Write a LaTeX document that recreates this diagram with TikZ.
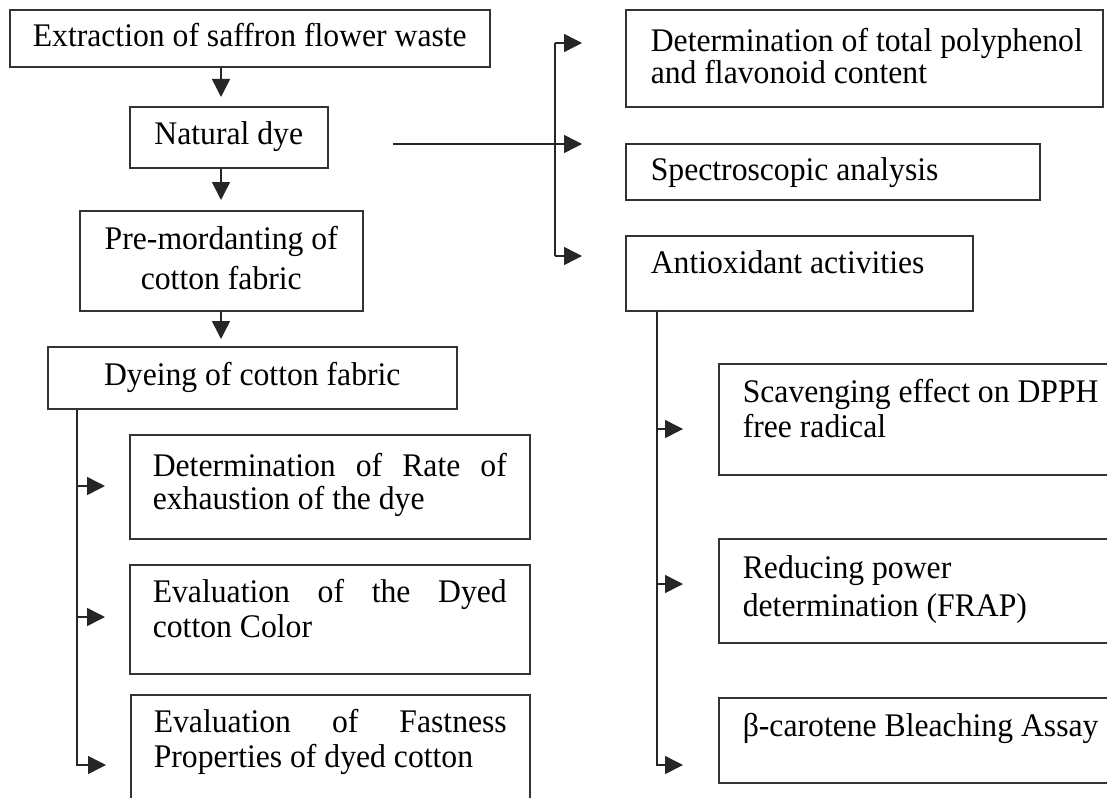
\documentclass[tikz,border=0pt]{standalone}
\usepackage{fontspec}
\setmainfont[FakeStretch=0.96]{Liberation Serif}
\usetikzlibrary{arrows.meta}
\newcommand{\bt}[6]{\parbox[c][#1][t]{#2}{\fontsize{33pt}{#3}\selectfont\sloppy\hyphenpenalty=10000 #4\rule{0pt}{#5}#6}}
\begin{document}
\begin{tikzpicture}[x=1pt,y=-1pt,
  bx/.style={draw=black!80, line width=1.6pt, inner ysep=0pt, anchor=north west, fill=white},
  ln/.style={draw=black!85, line width=1.5pt},
  arr/.style={ln, -{Triangle[length=18pt,width=18pt]}}]
\clip (0,0) rectangle (1107,797);
\fill[white] (0,0) rectangle (1107,797);
% left column
\node[bx, inner xsep=0pt] (ext) at (9,9) {\bt{57pt}{480pt}{35pt}{\centering}{37pt}{Extraction of saffron flower waste}};
\node[bx, inner xsep=0pt] (nd) at (129,106) {\bt{61pt}{198pt}{35pt}{\centering}{38pt}{Natural dye}};
\node[bx, inner xsep=0pt] (pm) at (79,210) {\bt{100pt}{283pt}{40pt}{\centering}{39pt}{Pre-mordanting of\\cotton fabric}};
\node[bx, inner xsep=0pt] (dy) at (47,346) {\bt{62pt}{409pt}{35pt}{\centering}{39pt}{Dyeing of cotton fabric}};
\node[bx, inner xsep=23pt] (rate) at (129,434) {\bt{104pt}{354pt}{33pt}{}{42pt}{Determination of Rate of\linebreak exhaustion of the dye}};
\node[bx, inner xsep=23pt] (col) at (129,564) {\bt{109pt}{354pt}{35pt}{}{38pt}{Evaluation of the Dyed\linebreak cotton Color}};
\node[bx, inner xsep=23pt] (fast) at (130,694) {\bt{130pt}{353pt}{35pt}{}{38pt}{Evaluation of Fastness\linebreak Properties of dyed cotton}};
% right column
\node[bx, inner xsep=0pt] (pp) at (625,9) {\hspace*{25pt}\bt{97pt}{452pt}{32pt}{\raggedright}{42pt}{Determination of total polyphenol\\and flavonoid content}};
\node[bx, inner xsep=25pt] (sp) at (625,143) {\bt{56pt}{364pt}{35pt}{\raggedright}{37pt}{Spectroscopic analysis}};
\node[bx, inner xsep=25pt] (ao) at (625,235) {\bt{75pt}{297pt}{35pt}{\raggedright}{38pt}{Antioxidant activities}};
\node[bx, inner xsep=24pt] (dpph) at (718,363) {\bt{111pt}{400pt}{35pt}{\raggedright}{39pt}{Scavenging effect on DPPH\\free radical}};
\node[bx, inner xsep=24pt] (frap) at (718,538) {\bt{104pt}{400pt}{38pt}{\raggedright}{40pt}{Reducing power\\determination (FRAP)}};
\node[bx, inner xsep=24pt] (beta) at (718,697) {\bt{85pt}{400pt}{35pt}{\raggedright}{39pt}{β-carotene Bleaching Assay}};
% coordinates
\coordinate (ax) at (221,0);
\coordinate (b1) at (555,43);
\coordinate (b2) at (555,144);
\coordinate (b3) at (555,256);
\coordinate (lb) at (77,0);
\coordinate (l1) at (77,486);
\coordinate (l2) at (77,617);
\coordinate (l3) at (77,765);
\coordinate (rb) at (657,0);
\coordinate (r1) at (657,429);
\coordinate (r2) at (657,584);
\coordinate (r3) at (657,765);
% main flow
\draw[arr, shorten >=9pt] (ext.south -| ax) -- (nd.north -| ax);
\draw[arr, shorten >=10pt] (nd.south -| ax) -- (pm.north -| ax);
\draw[arr, shorten >=7pt] (pm.south -| ax) -- (dy.north -| ax);
% natural dye to analyses
\draw[ln, shorten <=64pt] (nd.east |- b2) -- (b2);
\draw[ln] (b1) -- (b3);
\draw[arr, shorten >=43pt] (b1) -- (pp.west |- b1);
\draw[arr, shorten >=43pt] (b2) -- (sp.west |- b2);
\draw[arr, shorten >=43pt] (b3) -- (ao.west |- b3);
% dyeing branches
\draw[arr, shorten >=24pt] (dy.south -| lb) |- (fast.west |- l3);
\draw[arr, shorten >=24pt] (l1) -- (rate.west |- l1);
\draw[arr, shorten >=24pt] (l2) -- (col.west |- l2);
% antioxidant branches
\draw[arr, shorten >=35pt] (ao.south -| rb) |- (beta.west |- r3);
\draw[arr, shorten >=35pt] (r1) -- (dpph.west |- r1);
\draw[arr, shorten >=35pt] (r2) -- (frap.west |- r2);
\end{tikzpicture}
\end{document}
